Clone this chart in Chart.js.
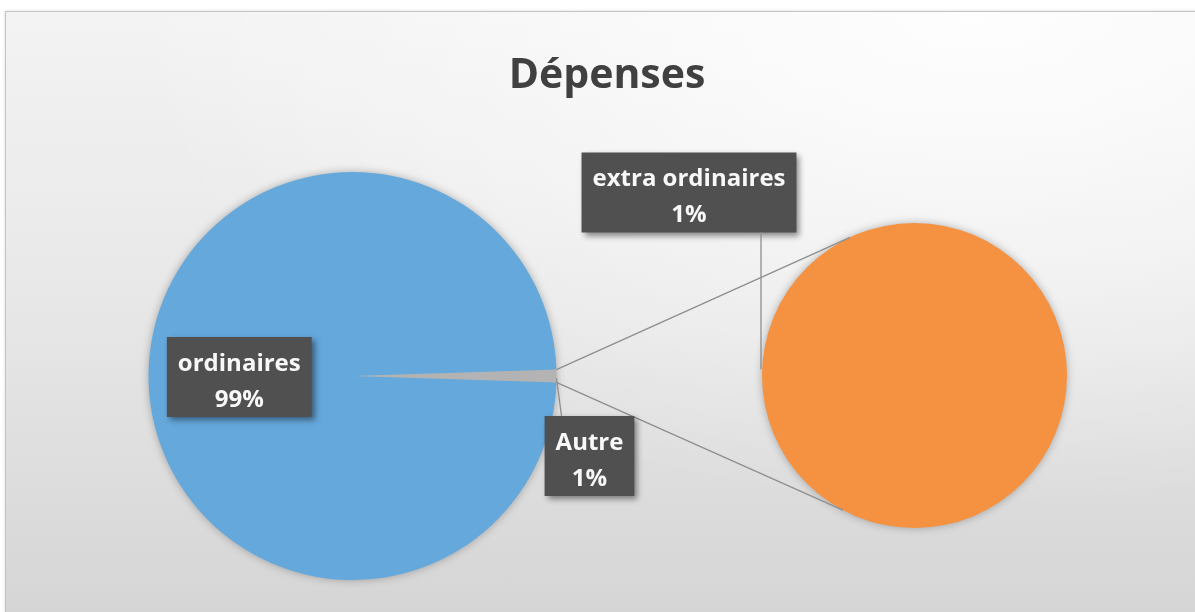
<!doctype html>
<html lang="fr">
  <head>
    <meta charset="UTF-8" />
    <title>Dépenses</title>
    <script src="https://cdn.jsdelivr.net/npm/chart.js"></script>
    <style>
      html, body { margin: 0; padding: 0; background: #fff; overflow: hidden; }
      .frame {
        position: absolute;
        left: 5px;
        top: 11px;
        width: 1210px;
        height: 620px;
        border: 1px solid #c4c4c4;
        box-shadow: 0 0 3px rgba(0, 0, 0, 0.15);
        background:
          radial-gradient(ellipse 70% 80% at 80% 0%, rgba(255, 255, 255, 0.9) 0%, rgba(255, 255, 255, 0) 100%),
          linear-gradient(to bottom, #f3f3f3 0%, #e8e8e8 45%, #d4d4d4 100%);
      }
      canvas { position: absolute; left: 0; top: 0; }
    </style>
  </head>
  <body>
    <div class="frame"></div>
    <canvas id="mainPie" width="1195" height="612"></canvas>
    <canvas id="detailPie" width="1195" height="612"></canvas>

    <script>
      const title = 'Dépenses'
      const categories = ['ordinaires', 'extra ordinaires']
      const values = [99, 1]
      const otherLabel = 'Autre'
      // les dernières catégories partent dans le second camembert
      const splitCount = 1

      const mainColors = ['#65a8dc', '#b3b3b3']
      const detailColors = ['#f49242']

      const total = values.reduce((a, b) => a + b, 0)
      const keep = values.length - splitCount
      const mainLabels = categories.slice(0, keep).concat([otherLabel])
      const detailValues = values.slice(keep)
      const detailLabels = categories.slice(keep)
      const otherValue = detailValues.reduce((a, b) => a + b, 0)
      const mainValues = values.slice(0, keep).concat([otherValue])

      const pct = (v) => Math.round((v / total) * 100) + '%'

      Chart.defaults.font.family = '"Open Sans", sans-serif'

      // ombre douce sous le disque
      const pieShadow = {
        id: 'pieShadow',
        beforeDatasetsDraw(chart) {
          const arc = chart.getDatasetMeta(0).data[0]
          const ctx = chart.ctx
          ctx.save()
          ctx.shadowColor = 'rgba(0, 0, 0, 0.35)'
          ctx.shadowBlur = 10
          ctx.fillStyle = chart.data.datasets[0].backgroundColor[0]
          ctx.beginPath()
          ctx.arc(arc.x, arc.y, arc.outerRadius - 1, 0, Math.PI * 2)
          ctx.fill()
          ctx.restore()
        }
      }

      const baseOptions = {
        responsive: false,
        animation: false,
        events: [],
        plugins: { legend: { display: false }, tooltip: { enabled: false } },
        elements: { arc: { borderWidth: 0 } }
      }

      const mainChart = new Chart(document.getElementById('mainPie'), {
        type: 'pie',
        data: {
          labels: mainLabels,
          datasets: [{ data: mainValues, backgroundColor: mainColors }]
        },
        options: {
          ...baseOptions,
          // la part "Autre" centrée à 3 heures
          rotation: 90 + (otherValue / total) * 180,
          layout: { padding: { left: 148, right: 638, top: 172, bottom: 32 } }
        },
        plugins: [pieShadow]
      })

      function drawBox(ctx, cx, cy, lines) {
        ctx.font = 'bold 24px "Open Sans"'
        const w = Math.max(...lines.map((l) => ctx.measureText(l).width)) + 22
        const h = 80
        ctx.save()
        ctx.shadowColor = 'rgba(0, 0, 0, 0.45)'
        ctx.shadowBlur = 6
        ctx.shadowOffsetX = 3
        ctx.shadowOffsetY = 3
        ctx.fillStyle = '#505050'
        ctx.fillRect(cx - w / 2, cy - h / 2, w, h)
        ctx.restore()
        ctx.fillStyle = '#f8f8f8'
        ctx.textAlign = 'center'
        ctx.textBaseline = 'middle'
        ctx.fillText(lines[0], cx, cy - 13)
        ctx.fillText(lines[1], cx, cy + 23)
        return { left: cx - w / 2, right: cx + w / 2, top: cy - h / 2, bottom: cy + h / 2 }
      }

      const overlay = {
        id: 'overlay',
        afterDraw(chart) {
          const ctx = chart.ctx
          const mainMeta = mainChart.getDatasetMeta(0)
          const big = mainMeta.data[0]
          const other = mainMeta.data[mainMeta.data.length - 1]
          const det = chart.getDatasetMeta(0).data[0]
          const r = other.outerRadius
          const rr = det.outerRadius

          // titre
          ctx.save()
          ctx.fillStyle = '#404040'
          ctx.font = 'bold 41px "Open Sans"'
          ctx.textAlign = 'center'
          ctx.textBaseline = 'middle'
          ctx.fillText(title, 607, 76)
          ctx.restore()

          // lignes de liaison
          const up = { x: other.x + r * Math.cos(other.startAngle), y: other.y + r * Math.sin(other.startAngle) }
          const down = { x: other.x + r * Math.cos(other.endAngle), y: other.y + r * Math.sin(other.endAngle) }
          const a1 = (-115 * Math.PI) / 180
          const a2 = (118 * Math.PI) / 180
          ctx.save()
          ctx.strokeStyle = '#8e8e8e'
          ctx.lineWidth = 1.3
          ctx.beginPath()
          ctx.moveTo(up.x, up.y)
          ctx.lineTo(det.x + rr * Math.cos(a1), det.y + rr * Math.sin(a1))
          ctx.moveTo(down.x, down.y)
          ctx.lineTo(det.x + rr * Math.cos(a2), det.y + rr * Math.sin(a2))
          ctx.stroke()
          ctx.restore()

          // étiquettes
          const mid = (other.startAngle + other.endAngle) / 2
          const edge = { x: other.x + r * Math.cos(mid), y: other.y + r * Math.sin(mid) }

          drawBox(ctx, big.x - 0.555 * big.outerRadius, big.y + 1, [mainLabels[0], pct(mainValues[0])])
          const autreBox = drawBox(ctx, edge.x + 33, edge.y + 80, [otherLabel, pct(otherValue)])
          const extraBox = drawBox(ctx, det.x - rr - 73, det.y - 183, [detailLabels[0], pct(detailValues[0])])

          ctx.save()
          ctx.strokeStyle = '#8e8e8e'
          ctx.lineWidth = 1.3
          ctx.beginPath()
          ctx.moveTo(edge.x, edge.y + 2)
          ctx.lineTo(edge.x + 5, autreBox.top)
          ctx.moveTo(det.x - rr - 1, extraBox.bottom)
          ctx.lineTo(det.x - rr - 1, det.y - 6)
          ctx.stroke()
          ctx.restore()
        }
      }

      const detailChart = new Chart(document.getElementById('detailPie'), {
        type: 'pie',
        data: {
          labels: detailLabels,
          datasets: [{ data: detailValues, backgroundColor: detailColors }]
        },
        options: {
          ...baseOptions,
          layout: { padding: { left: 762, right: 128, top: 223, bottom: 84 } }
        },
        plugins: [pieShadow, overlay]
      })
    </script>
  </body>
</html>
